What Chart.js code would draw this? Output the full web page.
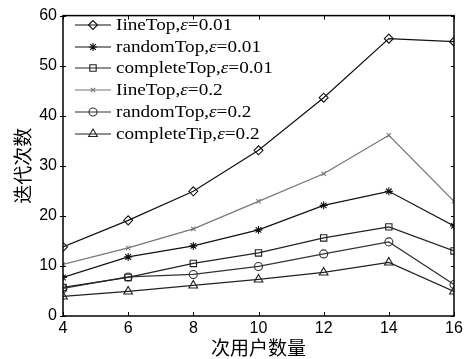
<!DOCTYPE html>
<html><head><meta charset="utf-8">
<script src="https://cdn.jsdelivr.net/npm/chart.js@4.4.1/dist/chart.umd.min.js"></script>
<style>html,body{margin:0;padding:0;background:#fff;}#wrap{width:471px;height:359px;position:relative;}</style>
</head><body><div id="wrap"><canvas id="c" width="471" height="359"></canvas></div>
<script>
const categories = [4, 6, 8, 10, 12, 14, 16];
const lineTop001 = [13.8, 19.1, 24.9, 33.1, 43.6, 55.4, 54.8];
const randomTop001 = [7.7, 11.8, 14.0, 17.2, 22.1, 24.9, 18.0];
const completeTop001 = [5.7, 7.7, 10.5, 12.6, 15.6, 17.8, 13.0];
const lineTop02 = [10.3, 13.6, 17.4, 22.9, 28.4, 36.1, 22.9];
const randomTop02 = [5.5, 7.8, 8.3, 9.9, 12.4, 14.8, 6.3];
const completeTip02 = [3.9, 4.9, 6.1, 7.3, 8.7, 10.7, 4.9];
const seriesNames = ['IineTop', 'randomTop', 'completeTop', 'IineTop', 'randomTop', 'completeTip'];
const seriesEps = ['0.01', '0.01', '0.01', '0.2', '0.2', '0.2'];
const yTicks = [0, 10, 20, 30, 40, 50, 60];
const xTitle = '次用户数量';
const yTitle = '迭代次数';

const styles = [
  {color:'#111', point:'rectRot', r:4.5},
  {color:'#111', point:'star', r:4},
  {color:'#222', point:'rect', r:4.5},
  {color:'#777', point:'crossRot', r:3},
  {color:'#333', point:'circle', r:4},
  {color:'#222', point:'triangle', r:5}
];
const allData = [lineTop001, randomTop001, completeTop001, lineTop02, randomTop02, completeTip02];

const datasets = allData.map((d, i) => ({
  label: seriesNames[i] + ',ε=' + seriesEps[i],
  data: d.map((v, j) => ({x: categories[j], y: v})),
  borderColor: styles[i].color,
  backgroundColor: 'rgba(255,255,255,0)',
  pointBorderColor: styles[i].color,
  pointBackgroundColor: 'rgba(255,255,255,0)',
  pointStyle: styles[i].point,
  pointRadius: styles[i].r,
  pointBorderWidth: 1.1,
  borderWidth: 1.2,
  tension: 0
}));

const frame = {
  id: 'frame',
  afterDatasetsDraw(chart) {
    const {ctx, chartArea: a, scales: {x, y}} = chart;
    ctx.save();
    ctx.strokeStyle = '#000';
    ctx.lineWidth = 1.5;
    ctx.strokeRect(a.left, a.top, a.right - a.left, a.bottom - a.top);
    ctx.lineWidth = 1;
    ctx.beginPath();
    yTicks.forEach(t => {
      const py = Math.round(y.getPixelForValue(t)) + 0.5;
      ctx.moveTo(a.left - 3, py); ctx.lineTo(a.left + 3, py);
      ctx.moveTo(a.right - 3, py); ctx.lineTo(a.right, py);
    });
    categories.forEach(t => {
      const px = Math.round(x.getPixelForValue(t)) + 0.5;
      ctx.moveTo(px, a.bottom); ctx.lineTo(px, a.bottom - 4);
      ctx.moveTo(px, a.top); ctx.lineTo(px, a.top + 4);
    });
    ctx.stroke();
    // legend
    const lx0 = 75, lx1 = 111, tx = 116;
    const ys = [25, 47, 68, 90, 112, 134];
    const sx = 1.2;
    chart.data.datasets.forEach((ds, i) => {
      const yy = ys[i];
      ctx.strokeStyle = ds.borderColor;
      ctx.lineWidth = 1.2;
      ctx.beginPath(); ctx.moveTo(lx0, yy); ctx.lineTo(lx1, yy); ctx.stroke();
      ctx.lineWidth = 1.1;
      ctx.fillStyle = 'rgba(255,255,255,0)';
      Chart.helpers.drawPoint(ctx, {pointStyle: ds.pointStyle, radius: ds.pointRadius, rotation: 0, borderWidth: 1.1}, (lx0 + lx1) / 2, yy);
      ctx.save();
      ctx.translate(tx, yy + 1);
      ctx.scale(sx, 1);
      ctx.fillStyle = '#000';
      ctx.textBaseline = 'middle';
      ctx.textAlign = 'left';
      let cx = 0;
      ctx.font = '16px "Liberation Serif"';
      const p1 = seriesNames[i] + ',';
      ctx.fillText(p1, cx, 0); cx += ctx.measureText(p1).width;
      ctx.font = 'italic 16px "Liberation Serif"';
      ctx.fillText('ε', cx, 0); cx += ctx.measureText('ε').width;
      ctx.font = '16px "Liberation Serif"';
      ctx.fillText('=' + seriesEps[i], cx, 0);
      ctx.restore();
    });
    ctx.restore();
  }
};

new Chart(document.getElementById('c'), {
  type: 'line',
  data: {datasets},
  options: {
    responsive: false,
    animation: false,
    layout: {padding: {left: 0, right: 17, top: 12, bottom: 0}},
    plugins: {legend: {display: false}, tooltip: {enabled: false}},
    scales: {
      x: {
        type: 'linear', min: 4, max: 16,
        grid: {display: false, drawTicks: false},
        border: {display: false},
        afterFit(s) { s.height = 43; },
        afterBuildTicks(s) { s.ticks = categories.map(v => ({value: v})); },
        ticks: {color: '#000', font: {family: '"Liberation Sans", Arial', size: 16}, padding: 3, maxRotation: 0, autoSkip: false},
        title: {display: true, text: xTitle, color: '#000', font: {family: '"Noto Sans CJK SC"', size: 19}, padding: {top: 0, bottom: 0}}
      },
      y: {
        min: 0, max: 60,
        grid: {display: false, drawTicks: false},
        border: {display: false},
        afterFit(s) { s.width = 63; },
        afterBuildTicks(s) { s.ticks = yTicks.map(v => ({value: v})); },
        ticks: {color: '#000', font: {family: '"Liberation Sans", Arial', size: 16}, padding: 6},
        title: {display: true, text: yTitle, color: '#000', font: {family: '"Noto Sans CJK SC"', size: 19}, padding: {top: 11, bottom: 0}}
      }
    }
  },
  plugins: [frame]
});
</script></body></html>
